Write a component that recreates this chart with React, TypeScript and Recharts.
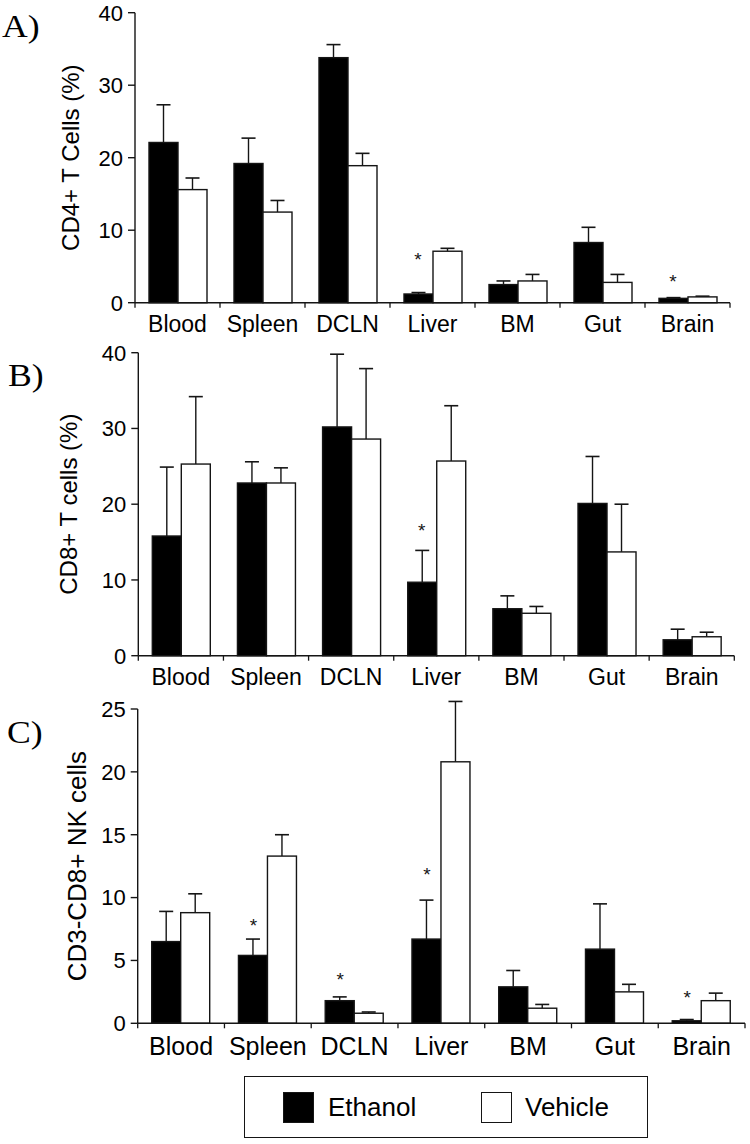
import React from "react";
import { ComposedChart, Bar, XAxis, YAxis, Scatter } from "recharts";

const categories = ["Blood", "Spleen", "DCLN", "Liver", "BM", "Gut", "Brain"];
const seriesNames = ["Ethanol", "Vehicle"];

// A) CD4+ T cells (%)
const cd4Ethanol = [22.1, 19.2, 33.8, 1.2, 2.5, 8.3, 0.6];
const cd4EthanolErr = [5.2, 3.5, 1.8, 0.2, 0.5, 2.1, 0.1];
const cd4Vehicle = [15.6, 12.5, 18.9, 7.1, 3.0, 2.8, 0.8];
const cd4VehicleErr = [1.6, 1.6, 1.7, 0.4, 0.9, 1.1, 0.1];
const cd4Stars = [null, null, null, 6.0, null, null, 3.0];

// B) CD8+ T cells (%)
const cd8Ethanol = [15.8, 22.8, 30.2, 9.7, 6.2, 20.1, 2.1];
const cd8EthanolErr = [9.1, 2.8, 9.6, 4.2, 1.7, 6.2, 1.4];
const cd8Vehicle = [25.3, 22.8, 28.6, 25.7, 5.6, 13.7, 2.5];
const cd8VehicleErr = [8.9, 2.0, 9.3, 7.3, 0.9, 6.3, 0.6];
const cd8Stars = [null, null, null, 16.6, null, null, null];

// C) CD3-CD8+ NK cells
const nkEthanol = [6.5, 5.4, 1.8, 6.7, 2.9, 5.9, 0.2];
const nkEthanolErr = [2.4, 1.3, 0.3, 3.1, 1.3, 3.6, 0.1];
const nkVehicle = [8.8, 13.3, 0.8, 20.8, 1.2, 2.5, 1.8];
const nkVehicleErr = [1.5, 1.7, 0.1, 4.8, 0.3, 0.6, 0.6];
const nkStars = [null, 7.8, 3.5, 11.9, null, null, 2.1];

const ticks40 = [0, 10, 20, 30, 40];
const ticks25 = [0, 5, 10, 15, 20, 25];

const SANS = "'Liberation Sans', Arial, Helvetica, sans-serif";
const SERIF = "'Liberation Serif', 'Times New Roman', serif";
const INK = "#151515";
const BAR = 29;

const buildData = (
  eth: number[],
  ethErr: number[],
  veh: number[],
  vehErr: number[],
  stars: (number | null)[]
) =>
  categories.map((name, i) => ({
    name,
    eth: eth[i],
    ethErr: ethErr[i],
    veh: veh[i],
    vehErr: vehErr[i],
    star: stars[i],
  }));

const panels = [
  {
    letter: "A)",
    letterX: 2,
    letterY: 37,
    top: 0,
    height: 340,
    marginTop: 12.7,
    right: 20,
    yWidth: 135,
    xHeight: 37.3,
    max: 40,
    ticks: ticks40,
    title: "CD4+ T Cells (%)",
    titleSize: 24,
    titleX: 70,
    catSize: 23,
    catDy: 29,
    data: buildData(cd4Ethanol, cd4EthanolErr, cd4Vehicle, cd4VehicleErr, cd4Stars),
  },
  {
    letter: "B)",
    letterX: 8,
    letterY: 386,
    top: 340,
    height: 350,
    marginTop: 12.7,
    right: 15.7,
    yWidth: 138.3,
    xHeight: 34.3,
    max: 40,
    ticks: ticks40,
    title: "CD8+ T cells (%)",
    titleSize: 24,
    titleX: 68,
    catSize: 23,
    catDy: 29,
    data: buildData(cd8Ethanol, cd8EthanolErr, cd8Vehicle, cd8VehicleErr, cd8Stars),
  },
  {
    letter: "C)",
    letterX: 7,
    letterY: 743,
    top: 695,
    height: 375,
    marginTop: 14,
    right: 5,
    yWidth: 137.7,
    xHeight: 46.7,
    max: 25,
    ticks: ticks25,
    title: "CD3-CD8+ NK cells",
    titleSize: 26,
    titleX: 77,
    catSize: 25,
    catDy: 32,
    data: buildData(nkEthanol, nkEthanolErr, nkVehicle, nkVehicleErr, nkStars),
  },
];

// bar with an upper-only error whisker, scaled from the bar's own height
const barWithError = (fill: string, valKey: string, errKey: string) => (props: any) => {
  const { x, y, width, height, payload } = props;
  const val = payload[valKey];
  const k = val ? height / val : 0;
  const top = y - payload[errKey] * k;
  const mid = x + width / 2;
  return (
    <g>
      <line x1={mid} x2={mid} y1={y} y2={top} stroke={INK} strokeWidth={1.4} />
      <line x1={mid - 7} x2={mid + 7} y1={top} y2={top} stroke={INK} strokeWidth={1.6} />
      <rect x={x} y={y} width={width} height={height} fill={fill} stroke={INK} strokeWidth={1.4} />
    </g>
  );
};

const starShape = (props: any) => {
  const { cx, cy, payload } = props;
  if (!payload || payload.star == null || !isFinite(cy)) return <g />;
  return (
    <text x={cx - BAR / 2} y={cy + 7} textAnchor="middle" fontSize={19} fontFamily={SANS} fill={INK}>
      *
    </text>
  );
};

const Panel = ({ p }: { p: (typeof panels)[number] }) => {
  const band = (750 - p.yWidth - p.right) / categories.length;
  const renderTick = (t: any) => {
    const { x, y, payload, index } = t;
    const left = x - band / 2;
    return (
      <g>
        <line x1={left} x2={left} y1={y} y2={y + 5} stroke={INK} strokeWidth={1.3} />
        {index === categories.length - 1 && (
          <line x1={x + band / 2} x2={x + band / 2} y1={y} y2={y + 5} stroke={INK} strokeWidth={1.3} />
        )}
        <text x={x} y={y + p.catDy} textAnchor="middle" fontSize={p.catSize} fontFamily={SANS} fill="#000">
          {payload.value}
        </text>
      </g>
    );
  };
  const renderTitle = (l: any) => {
    const vb = l.viewBox || {};
    const cy = (vb.y || 0) + (vb.height || 0) / 2;
    return (
      <text
        transform={`translate(${p.titleX},${cy}) rotate(-90)`}
        textAnchor="middle"
        dominantBaseline="central"
        fontSize={p.titleSize}
        fontFamily={SANS}
        fill="#000"
      >
        {p.title}
      </text>
    );
  };
  return (
    <div style={{ position: "absolute", left: 0, top: p.top }}>
      <ComposedChart
        width={750}
        height={p.height}
        data={p.data}
        margin={{ top: p.marginTop, right: p.right, left: 0, bottom: 0 }}
        barSize={BAR}
        barGap={0}
      >
        <XAxis
          dataKey="name"
          interval={0}
          tickLine={false}
          tickSize={0}
          tickMargin={0}
          height={p.xHeight}
          axisLine={{ stroke: INK, strokeWidth: 1.4 }}
          tick={renderTick}
          padding={{ left: 0, right: 0 }}
        />
        <YAxis
          width={p.yWidth}
          domain={[0, p.max]}
          ticks={p.ticks}
          interval={0}
          tickSize={7}
          tickMargin={5}
          axisLine={{ stroke: INK, strokeWidth: 1.4 }}
          tickLine={{ stroke: INK, strokeWidth: 1.4 }}
          tick={{ fill: "#000", fontSize: 22, fontFamily: SANS }}
          label={renderTitle}
        />
        <Bar
          dataKey="eth"
          name={seriesNames[0]}
          fill="#000"
          isAnimationActive={false}
          shape={barWithError("#000", "eth", "ethErr")}
        />
        <Bar
          dataKey="veh"
          name={seriesNames[1]}
          fill="#fff"
          isAnimationActive={false}
          shape={barWithError("#fff", "veh", "vehErr")}
        />
        <Scatter dataKey="star" isAnimationActive={false} shape={starShape} legendType="none" />
      </ComposedChart>
    </div>
  );
};

const Legend = () => (
  <div
    style={{
      position: "absolute",
      left: 244,
      top: 1076,
      width: 404,
      height: 62,
      boxSizing: "border-box",
      border: `1.5px solid ${INK}`,
      fontFamily: SANS,
      fontSize: 26,
      color: "#000",
      background: "#fff",
    }}
  >
    {seriesNames.map((name, i) => (
      <React.Fragment key={name}>
        <div
          style={{
            position: "absolute",
            left: i === 0 ? 38 : 236,
            top: 15,
            width: 31,
            height: 31,
            boxSizing: "border-box",
            background: i === 0 ? "#000" : "#fff",
            border: `1.5px solid ${INK}`,
          }}
        />
        <div style={{ position: "absolute", left: i === 0 ? 83 : 280, top: 14, lineHeight: "32px" }}>{name}</div>
      </React.Fragment>
    ))}
  </div>
);

export default function App() {
  return (
    <div style={{ position: "absolute", left: 0, top: 0, width: 750, height: 1144, background: "#fff" }}>
      {panels.map((p) => (
        <Panel key={p.letter} p={p} />
      ))}
      <svg width={750} height={1144} style={{ position: "absolute", left: 0, top: 0, pointerEvents: "none" }}>
        {panels.map((p) => (
          <text
            key={p.letter}
            transform={`translate(${p.letterX},${p.letterY}) scale(1.15,1)`}
            fontSize={31}
            fontFamily={SERIF}
            fill="#000"
          >
            {p.letter}
          </text>
        ))}
      </svg>
      <Legend />
    </div>
  );
}
